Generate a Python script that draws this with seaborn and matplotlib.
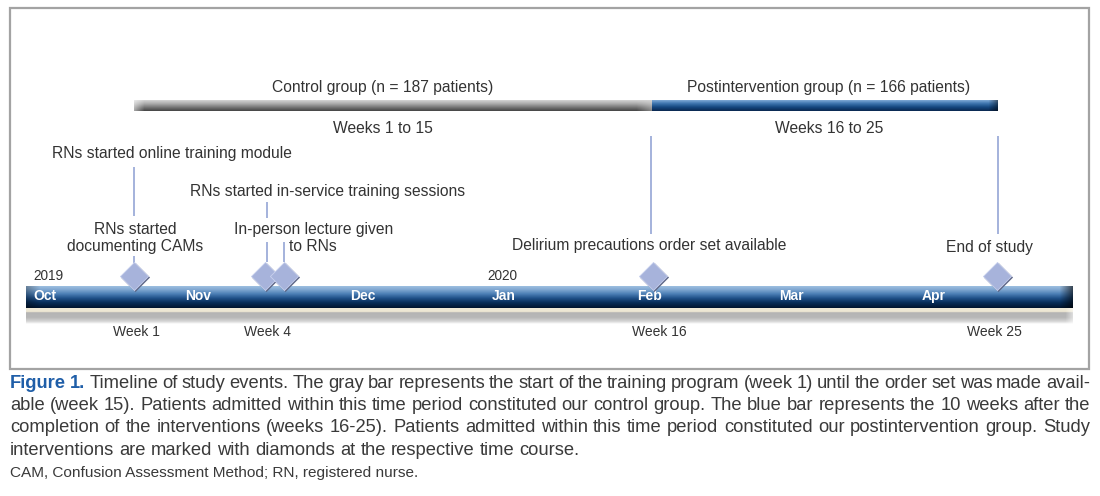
import numpy as np
import pandas as pd
import matplotlib
matplotlib.use("Agg")
import matplotlib.pyplot as plt
import seaborn as sns
from matplotlib.colors import to_rgb

# ---------------- data ----------------
month_labels = ["Oct", "Nov", "Dec", "Jan", "Feb", "Mar", "Apr"]
month_pos = [45, 198, 363, 504, 650, 791, 934]
year_labels = ["2019", "2020"]
year_pos = [33, 487]
event_names = ["RNs started documenting CAMs", "RNs started in-service training sessions",
               "In-person lecture given to RNs", "Delirium precautions order set available",
               "End of study"]
event_pos = [134, 265, 284, 653, 997]
week_labels = ["Week 1", "Week 4", "Week 16", "Week 25"]
week_pos = [136, 267, 659, 994]
group_labels = ["Control group (n = 187 patients)", "Postintervention group (n = 166 patients)"]
group_weeks = ["Weeks 1 to 15", "Weeks 16 to 25"]
group_start = [134, 652]
group_end = [652, 998]

caption_lines = [
    "Timeline of study events. The gray bar represents the start of the training program (week 1) until the order set was made avail-",
    "able (week 15). Patients admitted within this time period constituted our control group. The blue bar represents the 10 weeks after the",
    "completion of the interventions (weeks 16-25). Patients admitted within this time period constituted our postintervention group. Study",
    "interventions are marked with diamonds at the respective time course.",
]
footnote = "CAM, Confusion Assessment Method; RN, registered nurse."

# ---------------- setup ----------------
sns.set_theme(style="white")
plt.rcParams["font.family"] = ["Liberation Sans", "DejaVu Sans"]

W, H = 1100, 496
fig = plt.figure(figsize=(11, 4.96), dpi=100)
ax = fig.add_axes([0, 0, 1, 1])
TXT = "#333333"


def bar_image(x0, x1, y0, y1, stops, dark_right=0.0, dark_left=0.0, end_len=14,
              fade_left=0.0, fade_len=12, light_right=0.0, light_len=14,
              fade_right=0.0, z=2):
    nrows = int((y1 - y0) * 4)
    ncols = int(x1 - x0)
    t = np.linspace(0, 1, nrows)
    pos = [s[0] for s in stops]
    cols = np.array([to_rgb(s[1]) for s in stops])
    col = np.stack([np.interp(t, pos, cols[:, k]) for k in range(3)], axis=1)
    img = np.repeat(col[:, None, :], ncols, axis=1)
    xs = np.arange(ncols)
    if dark_right:
        f = 1 - dark_right * np.clip((xs - (ncols - end_len)) / end_len, 0, 1)
        img = img * f[None, :, None]
    if dark_left:
        f = 1 - dark_left * np.clip(1 - xs / end_len, 0, 1)
        img = img * f[None, :, None]
    if fade_left:
        a = fade_left * np.clip(1 - xs / fade_len, 0, 1)
        img = img * (1 - a[None, :, None]) + a[None, :, None]
    if fade_right:
        a = fade_right * np.clip((xs - (ncols - fade_len)) / fade_len, 0, 1)
        img = img * (1 - a[None, :, None]) + a[None, :, None]
    if light_right:
        a = light_right * np.clip((xs - (ncols - light_len)) / light_len, 0, 1)
        img = img * (1 - a[None, :, None]) + a[None, :, None] * 0.85
    ax.imshow(np.clip(img, 0, 1), extent=[x0, x1, y1, y0], aspect="auto",
              interpolation="bilinear", zorder=z)


# ---------------- frame ----------------
ax.add_patch(plt.Rectangle((10, 8), 1079, 361, fill=False, ec="#a3a3a3", lw=1.6, zorder=1))

# ---------------- group bars ----------------
gray_stops = [(0, "#d4d4d4"), (0.35, "#a8a8a8"), (0.7, "#707070"), (1, "#454545")]
blue_stops = [(0, "#7fa9d6"), (0.3, "#3f76b0"), (0.65, "#14477f"), (1, "#0a2850")]
bar_image(group_start[0], group_end[0], 100, 111, gray_stops, fade_left=0.5, fade_len=10,
          light_right=0.45, light_len=16)
bar_image(group_start[1], group_end[1], 100, 111, blue_stops, dark_right=0.5, end_len=10)
GFS = 11.25
for i in range(2):
    cx = (group_start[i] + group_end[i]) / 2 - (10 if i == 0 else -4)
    ax.text(cx, 92, group_labels[i], ha="center", va="baseline", fontsize=GFS, color=TXT, zorder=5)
    ax.text(cx, 133, group_weeks[i], ha="center", va="baseline", fontsize=GFS, color=TXT, zorder=5)

# ---------------- main timeline ----------------
main_stops = [(0, "#9dbfe0"), (0.15, "#82a9d2"), (0.35, "#4d80b6"), (0.55, "#205189"),
              (0.75, "#082e5a"), (1, "#01152e")]
x_main0, x_main1 = 26, 1073
shadow_stops = [(0, "#f0ead8"), (0.24, "#ece6d2"), (0.27, "#b3b3b3"), (0.6, "#b8b8b8"),
                (0.85, "#d8d8d8"), (1, "#ffffff")]
bar_image(x_main0, x_main1, 308, 324, shadow_stops, fade_right=0.6, fade_len=8, z=2)
bar_image(x_main0, x_main1, 286, 308, main_stops, dark_right=0.65, end_len=14, dark_left=0.3, z=3)

for lab, p in zip(month_labels, month_pos):
    ax.text(p, 300, lab, ha="center", va="baseline", fontsize=10, fontweight="bold",
            color="white", zorder=6)
for lab, p in zip(year_labels, year_pos):
    ax.text(p, 280, lab, ha="left", va="baseline", fontsize=9.8, color=TXT, zorder=6)
for lab, p in zip(week_labels, week_pos):
    ax.text(p, 336, lab, ha="center", va="baseline", fontsize=10, color=TXT, zorder=6)

# ---------------- connector lines ----------------
LC = "#95a6d6"
ax.vlines([event_pos[0]], 167, 216, color=LC, lw=1.2, zorder=4)
ax.vlines([event_pos[0]], 256, 268, color=LC, lw=1.2, zorder=4)
ax.vlines([267], 202, 218, color=LC, lw=1.2, zorder=4)
ax.vlines([267, 284], 242, 262, color=LC, lw=1.2, zorder=4)
ax.vlines([651], 136, 234, color=LC, lw=1.2, zorder=4)
ax.vlines([998], 136, 234, color=LC, lw=1.2, zorder=4)

# ---------------- event labels ----------------
FS = 11.25
ax.text(172, 158, "RNs started online training module", ha="center", va="baseline", fontsize=FS, color=TXT)
ax.text(328, 196, "RNs started in-service training sessions", ha="center", va="baseline", fontsize=FS, color=TXT)
ax.text(135, 234, "RNs started", ha="center", va="baseline", fontsize=FS, color=TXT)
ax.text(135, 251, "documenting CAMs", ha="center", va="baseline", fontsize=FS, color=TXT)
ax.text(234, 234, "In-person lecture given", ha="left", va="baseline", fontsize=FS, color=TXT)
ax.text(289, 251, "to RNs", ha="left", va="baseline", fontsize=FS, color=TXT)
ax.text(649, 250, "Delirium precautions order set available", ha="center", va="baseline", fontsize=FS, color=TXT)
ax.text(989, 252, "End of study", ha="center", va="baseline", fontsize=FS, color=TXT)

# ---------------- diamonds ----------------
ev = pd.DataFrame({"event": event_names, "x": event_pos, "y": [276] * len(event_pos)})
ev_shadow = ev.assign(x=ev["x"] + 1.5, y=ev["y"] + 1.5)
sns.scatterplot(data=ev_shadow, x="x", y="y", marker="D", s=220, color="#5c6585",
                edgecolor="none", linewidth=0, ax=ax, zorder=7, legend=False)
sns.scatterplot(data=ev, x="x", y="y", marker="D", s=205, color="#a7b3db",
                edgecolor="#c9d1ee", linewidth=0.6, ax=ax, zorder=8, legend=False)

# ---------------- caption ----------------
fig.canvas.draw()
renderer = fig.canvas.get_renderer()


def place_words(words, y, x0, x1, justify=True):
    objs = [ax.text(0, y, w, ha="left", va="baseline", **kw) for w, kw in words]
    widths = [t.get_window_extent(renderer).width for t in objs]
    fs = words[-1][1]["fontsize"]
    t2 = ax.text(0, y, "a a", fontsize=fs)
    t1 = ax.text(0, y, "a", fontsize=fs)
    sw = t2.get_window_extent(renderer).width - 2 * t1.get_window_extent(renderer).width
    t2.remove()
    t1.remove()
    if justify and len(objs) > 1:
        gap = (x1 - x0 - sum(widths)) / (len(objs) - 1)
    else:
        gap = sw
    x = x0
    for t, wd in zip(objs, widths):
        t.set_x(x)
        x += wd + gap


CFS = 13.2
norm = dict(fontsize=CFS, color="#3a3a3a")
bold = dict(fontsize=CFS, color="#1f5ea8", fontweight="bold")
baselines = [388, 410, 432, 455]
for i, line in enumerate(caption_lines):
    words = [(w, norm) for w in line.split(" ")]
    if i == 0:
        words = [("Figure", bold), ("1.", bold)] + words
    place_words(words, baselines[i], 10, 1090, justify=(i < 3))
ax.text(10, 477, footnote, ha="left", va="baseline", fontsize=11.1, color="#3a3a3a")

ax.set_xlim(0, W)
ax.set_ylim(H, 0)
ax.axis("off")
fig.savefig("out.png", dpi=100, facecolor="white")
